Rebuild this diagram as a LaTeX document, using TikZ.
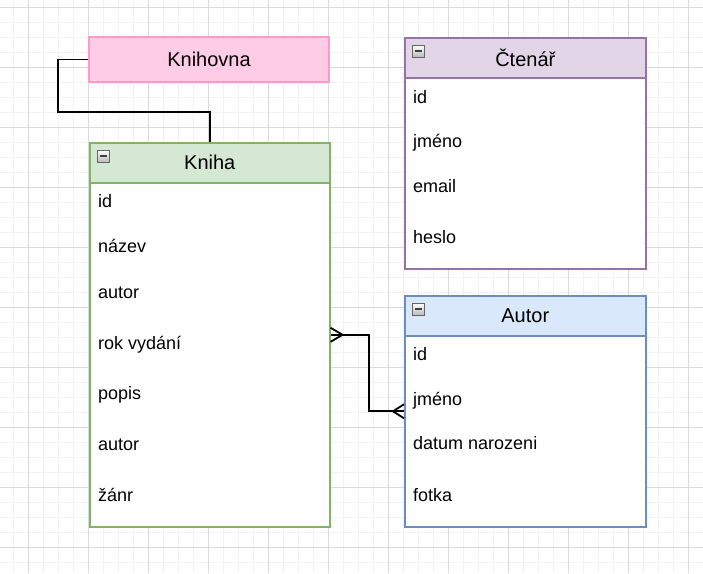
\documentclass[tikz,border=0pt]{standalone}
\usepackage{fontspec}
\setmainfont{Liberation Sans}
\usepackage{tikz}
\usetikzlibrary{calc}
\usepackage{xcolor}

\definecolor{gridmajor}{HTML}{DADADA}
\definecolor{gridminor}{HTML}{F2F2F2}
\definecolor{pinkfill}{HTML}{FFCCE6}
\definecolor{pinkline}{HTML}{FF99CC}
\definecolor{greenfill}{HTML}{D5E8D4}
\definecolor{greenline}{HTML}{82B366}
\definecolor{purplefill}{HTML}{E1D5E7}
\definecolor{purpleline}{HTML}{9673A6}
\definecolor{bluefill}{HTML}{DAE8FC}
\definecolor{blueline}{HTML}{6C8EBF}

\tikzset{
  tablebox/.style={draw, fill=white, line width=1.6pt, minimum width=240, inner sep=0pt, anchor=north west},
  headbox/.style={draw, line width=1.6pt, minimum width=240, minimum height=40, inner sep=0pt, anchor=north west, font=\fontsize{20}{24}\selectfont},
  field/.style={anchor=base west, inner sep=0pt, font=\fontsize{18}{22}\selectfont},
  minusicon/.style={draw=gray!80!black, top color=white, bottom color=gray!55, minimum size=12, inner sep=0pt, anchor=north west,
    path picture={\draw[line width=1.6pt, black!75] ([xshift=2.5]path picture bounding box.west) -- ([xshift=-2.5]path picture bounding box.east);}},
  link/.style={draw=black, line width=1.8pt}
}

\begin{document}
\begin{tikzpicture}[x=1pt,y=-1pt]

\fill[white] (0,0) rectangle (703,573);
\useasboundingbox (0,0) rectangle (703,573);

% grid
\foreach \gx in {13,28,...,703} \draw[gridminor, line width=1pt] (\gx,0) -- (\gx,573);
\foreach \gy in {7,22,...,573} \draw[gridminor, line width=1pt] (0,\gy) -- (703,\gy);
\foreach \gx in {28,88,...,703} \draw[gridmajor, line width=1pt] (\gx,0) -- (\gx,573);
\foreach \gy in {7,67,...,573} \draw[gridmajor, line width=1pt] (0,\gy) -- (703,\gy);

% Knihovna
\node[draw=pinkline, fill=pinkfill, line width=1.6pt, minimum width=240, minimum height=45, inner sep=0pt,
  font=\fontsize{20}{24}\selectfont] (knihovna) at (209,59.5) {Knihovna};

% Kniha
\node[tablebox, draw=greenline, minimum height=384] (kniha) at (89,142) {};
\node[headbox, draw=greenline, fill=greenfill] (kniha-head) at (89,142) {Kniha};
\node[minusicon] (kniha-icon) at (97,150) {};
\node[field] (kniha-id) at (98,207) {id};
\node[field] (kniha-nazev) at (98,252) {název};
\node[field] (kniha-autor) at (98,298) {autor};
\node[field] (kniha-rok) at (98,349) {rok vydání};
\node[field] (kniha-popis) at (98,399) {popis};
\node[field] (kniha-autor2) at (98,450) {autor};
\node[field] (kniha-zanr) at (98,501) {žánr};

% Ctenar
\node[tablebox, draw=purpleline, minimum width=241, minimum height=231] (ctenar) at (404,37) {};
\node[headbox, draw=purpleline, fill=purplefill, minimum width=241] (ctenar-head) at (404,37) {Čtenář};
\node[minusicon] (ctenar-icon) at (412,45) {};
\node[field] (ctenar-id) at (413,103) {id};
\node[field] (ctenar-jmeno) at (413,147) {jméno};
\node[field] (ctenar-email) at (413,192) {email};
\node[field] (ctenar-heslo) at (413,243) {heslo};

% Autor
\node[tablebox, draw=blueline, minimum width=241, minimum height=231] (autor) at (404,295) {};
\node[headbox, draw=blueline, fill=bluefill, minimum width=241] (autor-head) at (404,295) {Autor};
\node[minusicon] (autor-icon) at (412,303) {};
\node[field] (autor-id) at (413,360) {id};
\node[field] (autor-jmeno) at (413,405) {jméno};
\node[field] (autor-datum) at (413,449) {datum narozeni};
\node[field] (autor-fotka) at (413,501) {fotka};

% links
\draw[link] (knihovna.west) -- ++(-30,0) |- ($(kniha.north)+(0,-30)$) -- (kniha.north);
\draw[link] (kniha.east) -- ++(38,0) |- (autor.west);
\draw[link] ($(kniha.east)+(0,-7)$) -- ++(12,7) -- ++(-12,7);
\draw[link] ($(autor.west)+(0,-7)$) -- ++(-11,7) -- ++(11,7);

\end{tikzpicture}
\end{document}
